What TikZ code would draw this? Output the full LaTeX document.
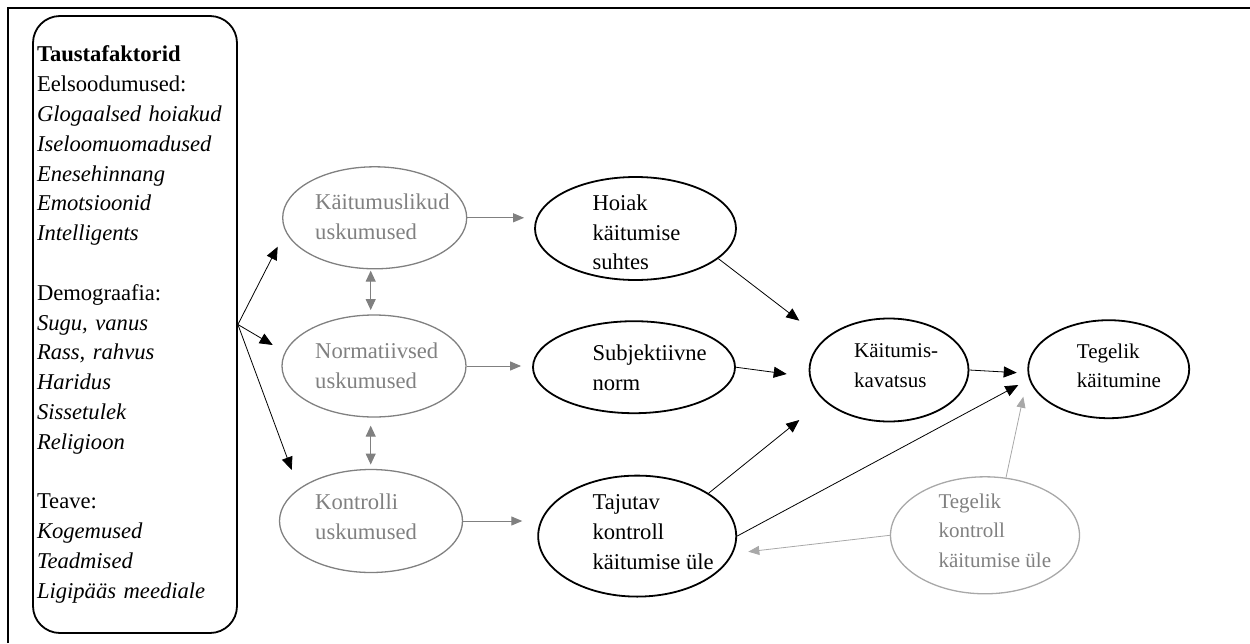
\documentclass[tikz,border=0pt]{standalone}
\usepackage{fontspec}
\setmainfont{Liberation Serif}
\usepackage{xcolor}
\usetikzlibrary{
  arrows.meta,
  shapes.geometric
}
\definecolor{beliefgray}{HTML}{808080}
\definecolor{actualgray}{HTML}{A8A8A8}

\begin{document}
\begin{tikzpicture}[x=1pt, y=-1pt,
    every node/.style={font=\fontsize{22.6}{29.8}\selectfont},
    smalltext/.style={font=\fontsize{21}{29.5}\selectfont},
    factorbox/.style={draw, line width=1.8pt, rounded corners=27pt, minimum width=204pt, minimum height=617pt, text width=196pt, align=left, inner xsep=4pt, inner ysep=0pt},
    ellsize/.style 2 args={minimum width=#1, minimum height=#2},
    construct/.style={ellipse, draw, line width=1.8pt, inner sep=0pt},
    belief/.style={construct, draw=beliefgray, line width=1.3pt},
    actual/.style={construct, draw=actualgray, line width=1.3pt},
    nodetext/.style={anchor=north west, inner sep=0pt, align=left},
    link/.style={-{Triangle[length=13pt, width=11pt]}, line width=0.8pt},
    graylink/.style={-{Triangle[length=11pt, width=9pt]}, line width=1pt, color=beliefgray},
    graypair/.style={{Triangle[length=11pt, width=10pt]}-{Triangle[length=11pt, width=10pt]}, line width=1pt, color=beliefgray},
    lightlink/.style={-{Triangle[length=11pt, width=9pt]}, line width=0.8pt, color=actualgray}]
\useasboundingbox (0,0) rectangle (1250,643);

% page frame
\draw[line width=1.8pt] (8,643) -- (8,8) -- (1250,8);

% background factors
\node[factorbox] (factors) at (135,324.5) {\textbf{Taustafaktorid}\\
  Eelsoodumused:\\
  \textit{Glogaalsed hoiakud}\\
  \textit{Iseloomuomadused}\\
  \textit{Enesehinnang}\\
  \textit{Emotsioonid}\\
  \textit{Intelligents}\\[29.8pt]
  Demograafia:\\
  \textit{Sugu, vanus}\\
  \textit{Rass, rahvus}\\
  \textit{Haridus}\\
  \textit{Sissetulek}\\
  \textit{Religioon}\\[29.8pt]
  Teave:\\
  \textit{Kogemused}\\
  \textit{Teadmised}\\
  \textit{Ligipääs meediale}};

% beliefs
\node[belief, ellsize={184pt}{102pt}] (beh) at (374.7,217.8) {};
\node[nodetext, text=beliefgray] (behtext) at (315,193.8) {Käitumuslikud\\uskumused};
\node[belief, ellsize={184pt}{102pt}] (norm) at (374,366) {};
\node[nodetext, text=beliefgray] (normtext) at (315,343) {Normatiivsed\\uskumused};
\node[belief, ellsize={183pt}{103pt}] (kont) at (371,521) {};
\node[nodetext, text=beliefgray] (konttext) at (315,494) {Kontrolli\\uskumused};

% attitudes, norm, control
\node[construct, ellsize={201pt}{103pt}] (hoiak) at (635.5,228.5) {};
\node[nodetext] (hoiaktext) at (592.3,194.5) {Hoiak\\käitumise\\suhtes};
\node[construct, ellsize={202pt}{92pt}] (subj) at (634,367.2) {};
\node[nodetext] (subjtext) at (592.3,344.5) {Subjektiivne\\norm};
\node[construct, ellsize={198pt}{121pt}] (taj) at (637.2,536.1) {};
\node[nodetext] (tajtext) at (592.3,494.5) {Tajutav\\kontroll\\käitumise üle};

% intention, behaviour
\node[construct, ellsize={159pt}{103pt}] (kav) at (889,370) {};
\node[nodetext, smalltext] (kavtext) at (854,343.5) {Käitumis-\\kavatsus};
\node[construct, ellsize={161pt}{98pt}] (teg) at (1108.7,369.2) {};
\node[nodetext, smalltext] (tegtext) at (1076.7,343.5) {Tegelik\\käitumine};
\node[actual, ellsize={189pt}{117pt}] (tk) at (985,535.3) {};
\node[nodetext, smalltext, text=beliefgray] (tktext) at (938.3,493.5) {Tegelik\\kontroll\\käitumise üle};

% free arrow ends
\coordinate (fan) at (factors.east);
\coordinate (behin) at (277.7,246.7);
\coordinate (normin) at (272.7,345);
\coordinate (kontin) at (291.7,470);
\coordinate (kavA) at (799.3,320.7);
\coordinate (kavB) at (786.7,374);
\coordinate (kavC) at (799.3,420);
\coordinate (tegA) at (1016.7,372.7);
\coordinate (tegB) at (1018.3,385);
\coordinate (tegC) at (1023.3,396.7);
\coordinate (tajin) at (748.3,551.7);

% connectors
\draw[link] (fan) -- (behin);
\draw[link] (fan) -- (normin);
\draw[link] (fan) -- (kontin);

\draw[graylink, shorten >=10pt] (beh.east) -- (beh.east -| hoiak.west);
\draw[graylink, shorten >=11pt] (norm.east) -- (norm.east -| subj.west);
\draw[graylink, shorten >=15pt] (kont.east) -- (kont.east -| taj.west);
\draw[graypair, shorten <=1.2pt, shorten >=4.3pt] ([xshift=-4pt]beh.south) -- ([xshift=-4pt]beh.south |- norm.north);
\draw[graypair, shorten <=8pt, shorten >=4.3pt] ([xshift=-3.3pt]norm.south) -- ([xshift=-3.3pt]norm.south |- kont.north);

\draw[link] (hoiak.-20) -- (kavA);
\draw[link] (subj.east) -- (kavB);
\draw[link] (taj.31) -- (kavC);
\draw[link] (kav.east) -- (tegA);
\draw[link] (taj.east) -- (tegB);
\draw[lightlink] (tk.70) -- (tegC);
\draw[lightlink] (tk.west) -- (tajin);
\end{tikzpicture}
\end{document}
